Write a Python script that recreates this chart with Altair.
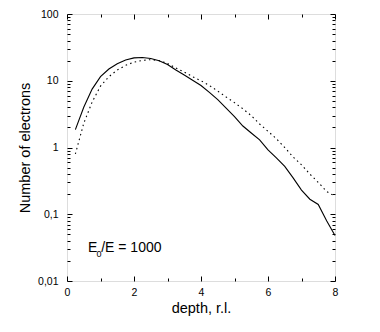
import altair as alt
import pandas as pd

depth = [0.25, 0.5, 0.75, 1.0, 1.25, 1.5, 1.75, 2.0, 2.25, 2.5, 2.75, 3.0, 3.25, 3.5, 3.75, 4.0,
         4.25, 4.5, 4.75, 5.0, 5.25, 5.5, 5.75, 6.0, 6.25, 6.5, 6.75, 7.0, 7.25, 7.5, 7.75, 8.0]
solid = [1.85, 4.0, 7.5, 11.5, 15.0, 18.0, 20.5, 22.0, 22.3, 21.5, 20.0, 17.5, 14.5, 12.2, 10.2, 8.5,
         6.7, 5.2, 3.9, 2.9, 2.1, 1.65, 1.3, 0.92, 0.7, 0.52, 0.35, 0.23, 0.168, 0.14, 0.08, 0.048]
dotted = [0.8, 2.3, 4.8, 8.3, 11.5, 14.5, 17.0, 19.0, 20.2, 20.7, 20.0, 18.2, 15.5, 13.5, 11.5, 10.0,
          8.5, 7.0, 5.7, 4.7, 3.8, 3.0, 2.25, 1.75, 1.35, 1.0, 0.72, 0.55, 0.4, 0.3, 0.22, 0.185]

y_major = [0.01, 0.1, 1, 10, 100]
y_minor = [m * d for d in [0.01, 0.1, 1, 10] for m in range(2, 10)]
x_major = [0, 2, 4, 6, 8]
x_minor = [1, 3, 5, 7]

df = pd.DataFrame({"depth": depth, "solid": solid, "dotted": dotted})

xs = alt.Scale(domain=[0, 8], nice=False)
ys = alt.Scale(type="log", domain=[0.01, 100], nice=False)

FONT = "Liberation Sans"
common = dict(grid=False, domain=False, tickColor="black", tickWidth=1)

solid_layer = alt.Chart(df).mark_line(color="black", strokeWidth=1.1).encode(
    x=alt.X("depth:Q", scale=xs, axis=alt.Axis(
        orient="bottom", values=x_major, offset=-5, tickSize=5, labelPadding=6,
        labelFontSize=10.5, labelFont=FONT, labelColor="black", labelFlush=False,
        title="depth, r.l.", titleFontSize=14.5, titleFont=FONT, titleFontWeight="normal",
        titleColor="black", titlePadding=4, **common)),
    y=alt.Y("solid:Q", scale=ys, axis=alt.Axis(
        orient="left", values=y_major, offset=-5, tickSize=5, labelPadding=9,
        labelExpr="replace(toString(datum.value), '.', ',')",
        labelFontSize=10.5, labelFont=FONT, labelColor="black", labelFlush=False,
        title="Number of electrons", titleFontSize=14.5, titleFont=FONT,
        titleFontWeight="normal", titleColor="black", titlePadding=5, **common)),
)

dotted_layer = alt.Chart(df).mark_line(color="black", strokeWidth=1.1, strokeDash=[1.5, 3.3]).encode(
    x=alt.X("depth:Q", scale=xs, axis=alt.Axis(
        orient="top", values=x_major, offset=-5, tickSize=5, labels=False, title=None, **common)),
    y=alt.Y("dotted:Q", scale=ys, axis=alt.Axis(
        orient="right", values=y_major, offset=-5, tickSize=5, labels=False, title=None, **common)),
)

minor_a = alt.Chart(df).mark_line(opacity=0).encode(
    x=alt.X("depth:Q", scale=xs, axis=alt.Axis(
        orient="bottom", values=x_minor, offset=-3, tickSize=3, labels=False, title=None, **common)),
    y=alt.Y("solid:Q", scale=ys, axis=alt.Axis(
        orient="left", values=y_minor, offset=-3, tickSize=3, labels=False, title=None, **common)),
)

minor_b = alt.Chart(df).mark_line(opacity=0).encode(
    x=alt.X("depth:Q", scale=xs, axis=alt.Axis(
        orient="top", values=x_minor, offset=-3, tickSize=3, labels=False, title=None, **common)),
    y=alt.Y("solid:Q", scale=ys, axis=alt.Axis(
        orient="right", values=y_minor, offset=-3, tickSize=3, labels=False, title=None, **common)),
)

ann_main = pd.DataFrame({"x": [0.627, 1.02], "y": [0.0275, 0.0275], "t": ["E", "/E = 1000"]})
ann_sub = pd.DataFrame({"x": [0.88], "y": [0.0229], "t": ["0"]})

text_main = alt.Chart(ann_main).mark_text(
    align="left", baseline="alphabetic", fontSize=14, font=FONT, color="black"
).encode(
    x=alt.X("x:Q", scale=xs, axis=None),
    y=alt.Y("y:Q", scale=ys, axis=None),
    text="t:N",
)
text_sub = alt.Chart(ann_sub).mark_text(
    align="left", baseline="alphabetic", fontSize=9, font=FONT, color="black"
).encode(
    x=alt.X("x:Q", scale=xs, axis=None),
    y=alt.Y("y:Q", scale=ys, axis=None),
    text="t:N",
)

chart = alt.layer(solid_layer, dotted_layer, minor_a, minor_b, text_main, text_sub).resolve_axis(
    x="independent", y="independent"
).properties(
    width=268, height=267,
    autosize=alt.AutoSizeParams(type="none"),
    padding={"left": 59, "top": 6, "right": 37, "bottom": 43},
).configure_view(stroke="black", strokeWidth=1.2).configure(background="white")

chart.save("out.html", embed_options={"renderer": "svg", "actions": False})
